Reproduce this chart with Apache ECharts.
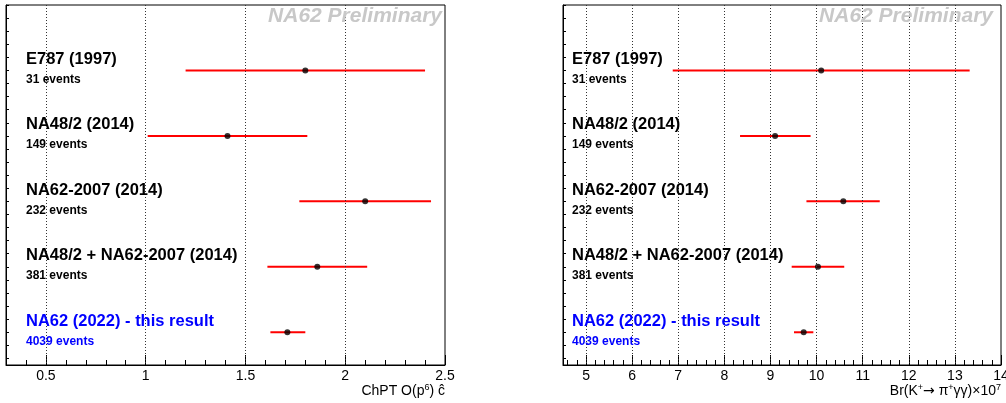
<!DOCTYPE html>
<html><head><meta charset="utf-8">
<script src="https://cdn.jsdelivr.net/npm/echarts@6/dist/echarts.min.js"></script>
<style>html,body{margin:0;padding:0;background:#fff}#c{width:1006px;height:403px}</style>
</head><body><div id="c"></div>
<script>
// ---- data ----
const experiments = ['E787 (1997)', 'NA48/2 (2014)', 'NA62-2007 (2014)', 'NA48/2 + NA62-2007 (2014)', 'NA62 (2022) - this result'];
const eventCounts = ['31 events', '149 events', '232 events', '381 events', '4039 events'];
const rowPos = [1, 2, 3, 4, 5];

const chptVal = [1.80, 1.41, 2.10, 1.86, 1.71];
const chptLo  = [1.20, 1.01, 1.77, 1.61, 1.625];
const chptHi  = [2.40, 1.81, 2.43, 2.11, 1.80];

const brVal = [10.10, 9.10, 10.58, 10.03, 9.72];
const brLo  = [6.88, 8.34, 9.78, 9.46, 9.51];
const brHi  = [13.32, 9.87, 11.37, 10.60, 9.93];

const chptRange = [0.3, 2.5];
const brRange = [4.5, 14];
const chptMajorTicks = [0.5, 1, 1.5, 2, 2.5];
const brMajorTicks = [5, 6, 7, 8, 9, 10, 11, 12, 13, 14];
const chptMinorStep = 0.1;
const brMinorStep = 0.2;
const rowRange = [0, 5.5];

const chptTitle = '{n|ChPT O(p}{sup|6}{n|) ĉ}';
const brTitle = '{n|Br(K}{sup|+}{ar|→}{n| π}{sup|+}{n|γγ)×10}{sup|7}';
const watermark = 'NA62 Preliminary';

// ---- helpers ----
const FONT = "'Liberation Sans', Arial, Helvetica, sans-serif";
function minorTicks(range, step) {
  const out = [];
  let k = Math.ceil(range[0] / step - 1e-9);
  while (k * step <= range[1] + 1e-9) { out.push(Math.round(k * step * 1000) / 1000); k++; }
  return out;
}

function panel(idx, range, majors, step, vals, los, his, labelOffset) {
  const xAxes = [
    {
      gridIndex: idx, type: 'value', min: range[0], max: range[1], position: 'bottom',
      axisLine: { show: true, onZero: false, lineStyle: { color: '#000', width: 1 } },
      axisTick: { show: true, inside: true, length: 5, customValues: minorTicks(range, step), lineStyle: { color: '#000' } },
      axisLabel: { show: false }, splitLine: { show: false }
    },
    {
      gridIndex: idx, type: 'value', min: range[0], max: range[1], position: 'bottom',
      axisLine: { show: false, onZero: false },
      axisTick: { show: true, inside: true, length: 10, customValues: majors, lineStyle: { color: '#000' } },
      axisLabel: { show: true, customValues: majors, color: '#000', fontSize: 14, fontFamily: FONT, margin: 4 },
      splitLine: { show: false }
    }
  ];
  const yAxis = {
    gridIndex: idx, type: 'value', min: rowRange[0], max: rowRange[1], interval: 0.2, inverse: true,
    axisLine: { show: true, onZero: false, lineStyle: { color: '#000' } },
    axisTick: { show: true, inside: true, length: 3, lineStyle: { color: '#000' } },
    axisLabel: { show: false }, splitLine: { show: false }
  };
  const xi = idx * 2, yi = idx;
  const gridLines = majors.filter(v => v > range[0] && v < range[1]);
  const series = [
    {
      type: 'custom', xAxisIndex: xi, yAxisIndex: yi, z: 3,
      data: vals.map((v, i) => [los[i], his[i], rowPos[i]]),
      encode: { x: [0, 1], y: 2 },
      renderItem: function (params, api) {
        const y = api.value(2);
        const p1 = api.coord([api.value(0), y]);
        const p2 = api.coord([api.value(1), y]);
        return { type: 'line', shape: { x1: p1[0], y1: p1[1], x2: p2[0], y2: p2[1] }, style: { stroke: '#ff0000', lineWidth: 2 } };
      },
      markLine: {
        silent: true, symbol: ['none', 'none'], label: { show: false },
        lineStyle: { color: '#333', type: [1, 2], width: 1 },
        data: gridLines.map(v => ({ xAxis: v }))
      }
    },
    {
      type: 'scatter', xAxisIndex: xi, yAxisIndex: yi, z: 4,
      symbol: 'circle', symbolSize: 6, itemStyle: { color: '#000' },
      data: vals.map((v, i) => [v, rowPos[i]])
    },
    {
      type: 'custom', xAxisIndex: xi, yAxisIndex: yi, z: 5,
      data: experiments.map((n, i) => [range[0], rowPos[i], i]),
      encode: { x: 0, y: 1 },
      renderItem: function (params, api) {
        const i = api.value(2);
        const p = api.coord([api.value(0), api.value(1)]);
        const col = i === experiments.length - 1 ? '#0000ff' : '#000';
        return {
          type: 'group', children: [
            { type: 'text', style: { x: p[0] + labelOffset, y: p[1] - 11, text: experiments[i], fill: col, font: 'bold 16.5px ' + FONT, verticalAlign: 'middle', align: 'left' } },
            { type: 'text', style: { x: p[0] + labelOffset, y: p[1] + 9, text: eventCounts[i], fill: col, font: 'bold 12px ' + FONT, verticalAlign: 'middle', align: 'left' } }
          ]
        };
      }
    }
  ];
  return { xAxes, yAxis, series };
}

const L = panel(0, chptRange, chptMajorTicks, chptMinorStep, chptVal, chptLo, chptHi, 20);
const R = panel(1, brRange, brMajorTicks, brMinorStep, brVal, brLo, brHi, 9);

const titleRich = {
  n: { fontSize: 14, fontFamily: FONT, fill: '#000', lineHeight: 16 },
  ar: { fontSize: 14, fontFamily: "'DejaVu Sans', sans-serif", fill: '#000', lineHeight: 16 },
  sup: { fontSize: 9, fontFamily: FONT, fill: '#000', lineHeight: 6, verticalAlign: 'top' }
};

const option = {
  animation: false,
  backgroundColor: '#fff',
  grid: [
    { left: 6, top: 5, width: 439, height: 360, show: true, borderColor: '#000', borderWidth: 1, containLabel: false, outerBoundsMode: 'none' },
    { left: 563, top: 5, width: 438, height: 360, show: true, borderColor: '#000', borderWidth: 1, containLabel: false, outerBoundsMode: 'none' }
  ],
  xAxis: [...L.xAxes, ...R.xAxes],
  yAxis: [L.yAxis, R.yAxis],
  series: [...L.series, ...R.series],
  graphic: [
    { type: 'text', right: 1006 - 442, top: 6, z: 10, style: { text: watermark, font: 'italic bold 21px ' + FONT, fill: '#c8c8c8' } },
    { type: 'text', right: 1006 - 993, top: 6, z: 10, style: { text: watermark, font: 'italic bold 21px ' + FONT, fill: '#c8c8c8' } },
    { type: 'text', right: 1006 - 445, top: 383, z: 10, style: { text: chptTitle, rich: titleRich, font: '14px ' + FONT, fill: '#000' } },
    { type: 'text', right: 1006 - 1001, top: 383, z: 10, style: { text: brTitle, rich: titleRich, font: '14px ' + FONT, fill: '#000' } }
  ]
};
const chart = echarts.init(document.getElementById('c'), null, { renderer: 'canvas' });
chart.setOption(option);
</script>
</body></html>
